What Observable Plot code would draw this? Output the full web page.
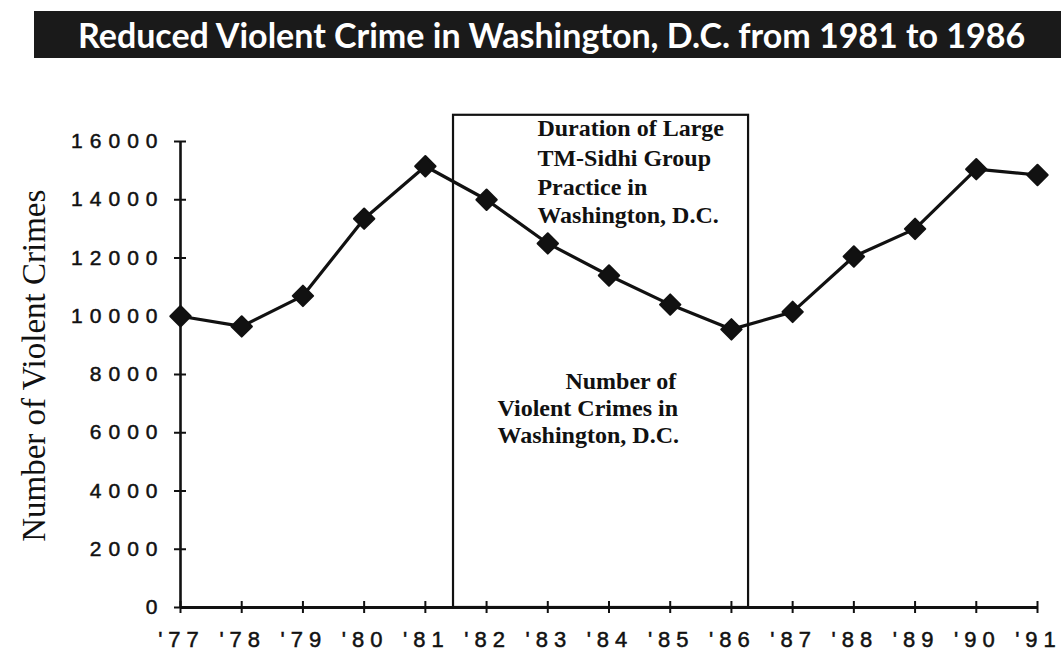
<!DOCTYPE html>
<html>
<head>
<meta charset="utf-8">
<script src="https://cdn.jsdelivr.net/npm/d3@7"></script>
<script src="https://cdn.jsdelivr.net/npm/@observablehq/plot@0.6"></script>
<style>
  html, body { margin: 0; padding: 0; background: #fff; width: 1061px; height: 655px; overflow: hidden; }
  #title {
    margin: 11px 0 0 34px; height: 47px; line-height: 47px;
    background: #1a1a1a; color: #fff;
    font-family: Lato, "Open Sans", sans-serif; font-weight: 700; font-size: 34px;
    padding-left: 44px; white-space: nowrap; box-sizing: border-box;
  }
  #chart { margin-top: 4px; }
  #chart svg { display: block; }
  g[aria-label="y-axis tick label"] text { letter-spacing: 7px; stroke: #111; stroke-width: 0.5px; }
  g[aria-label="x-axis tick label"] text { letter-spacing: 6px; stroke: #111; stroke-width: 0.5px; }
</style>
</head>
<body>
<div id="title">Reduced Violent Crime in Washington, D.C. from 1981 to 1986</div>
<div id="chart"></div>
<script>
// ---- data ----
const years = [77, 78, 79, 80, 81, 82, 83, 84, 85, 86, 87, 88, 89, 90, 91];
const crimes = [10000, 9650, 10700, 13350, 15150, 14000, 12500, 11400, 10400, 9550, 10150, 12050, 13000, 15050, 14850];
const yTicks = [0, 2000, 4000, 6000, 8000, 10000, 12000, 14000, 16000];
const xTickLabels = ["'77", "'78", "'79", "'80", "'81", "'82", "'83", "'84", "'85", "'86", "'87", "'88", "'89", "'90", "'91"];
const practiceStart = [81.46];
const practiceEnd = [86.28];
const practiceBoxTop = [16900];
const boxLabelLines = ["Duration of Large", "TM-Sidhi Group", "Practice in", "Washington, D.C."];
const boxLabelX = [82.83, 82.83, 82.83, 82.83];
const boxLabelY = [16206, 15142, 14146, 13185];
const seriesLabelLines = ["Number of", "Violent Crimes in", "Washington, D.C."];
const seriesLabelX = [85.10, 82.18, 82.18];
const seriesLabelY = [7485, 6558, 5665];
const seriesLabelAnchor = ["end", "start", "start"];
const yAxisLabel = "Number of Violent Crimes";

// ---- tables ----
const table = years.map((yr, i) => ({year: yr, crimes: crimes[i]}));
const boxRows = boxLabelLines.map((t, i) => ({t, x: boxLabelX[i], y: boxLabelY[i]}));
const seriesRows = seriesLabelLines.map((t, i) => ({t, x: seriesLabelX[i], y: seriesLabelY[i], a: seriesLabelAnchor[i]}));
const rectRows = practiceStart.map((s, i) => ({x1: s, x2: practiceEnd[i], y2: practiceBoxTop[i]}));

const W = 1061, H = 593, ML = 180, MR = 24, MT = 79, MB = 48;
const pxPerYear = (W - ML - MR) / (years[years.length - 1] - years[0]);
const pxPerUnit = (H - MT - MB) / yTicks[yTicks.length - 1];
const tickHalf = 6;

const serif = "'Liberation Serif', 'Times New Roman', serif";
const sans = "'Liberation Sans', Arial, Helvetica, sans-serif";
const annoStyle = {x: "x", y: "y", text: "t", lineAnchor: "bottom", fontFamily: serif, fontWeight: "bold", fontSize: 24, fill: "#111"};

const chart = Plot.plot({
  width: W, height: H,
  marginLeft: ML, marginRight: MR, marginTop: MT, marginBottom: MB,
  style: {fontFamily: sans, fontSize: "20px", color: "#111", background: "transparent"},
  x: {type: "linear", domain: [years[0], years[years.length - 1]]},
  y: {domain: [0, yTicks[yTicks.length - 1]]},
  marks: [
    // practice-period box
    Plot.rect(rectRows, {x1: "x1", x2: "x2", y1: () => 0, y2: "y2", fill: "none", stroke: "#111", strokeWidth: 2.2}),
    // axes lines
    Plot.ruleX([years[0]], {x: d => d, y1: () => 0, y2: () => yTicks[yTicks.length - 1], stroke: "#111", strokeWidth: 2.6}),
    Plot.ruleY([0], {y: d => d, x1: () => years[0], x2: () => years[years.length - 1], stroke: "#111", strokeWidth: 3}),
    // crossing tick marks
    Plot.ruleY(yTicks, {y: d => d, x1: () => years[0] - tickHalf / pxPerYear, x2: () => years[0] + tickHalf / pxPerYear, stroke: "#111", strokeWidth: 2}),
    Plot.ruleX(years, {x: d => d, y1: () => -tickHalf / pxPerUnit, y2: () => tickHalf / pxPerUnit, stroke: "#111", strokeWidth: 2}),
    // axes labels
    Plot.axisY({ticks: yTicks, tickSize: 0, tickPadding: 16, tickFormat: d => String(d), fontSize: 21, label: null}),
    Plot.axisX({ticks: years, tickSize: 0, tickPadding: 24, tickFormat: d => xTickLabels[years.indexOf(d)], fontSize: 22, dx: 1, label: null}),
    Plot.text([yAxisLabel], {text: d => d, frameAnchor: "left", y: () => 8300, dx: -146, rotate: -90, fontSize: 33, fontFamily: serif, lineAnchor: "middle", textAnchor: "middle", fill: "#111"}),
    // series
    Plot.line(table, {x: "year", y: "crimes", stroke: "#111", strokeWidth: 3.2}),
    Plot.dot(table, {x: "year", y: "crimes", symbol: "diamond2", r: 9.2, fill: "#111", stroke: "#111", strokeWidth: 2, strokeLinejoin: "round"}),
    // annotations
    Plot.text(boxRows, {...annoStyle, textAnchor: "start"}),
    Plot.text(seriesRows.filter(d => d.a === "end"), {...annoStyle, textAnchor: "end"}),
    Plot.text(seriesRows.filter(d => d.a === "start"), {...annoStyle, textAnchor: "start"})
  ]
});
document.getElementById("chart").appendChild(chart);
</script>
</body>
</html>
